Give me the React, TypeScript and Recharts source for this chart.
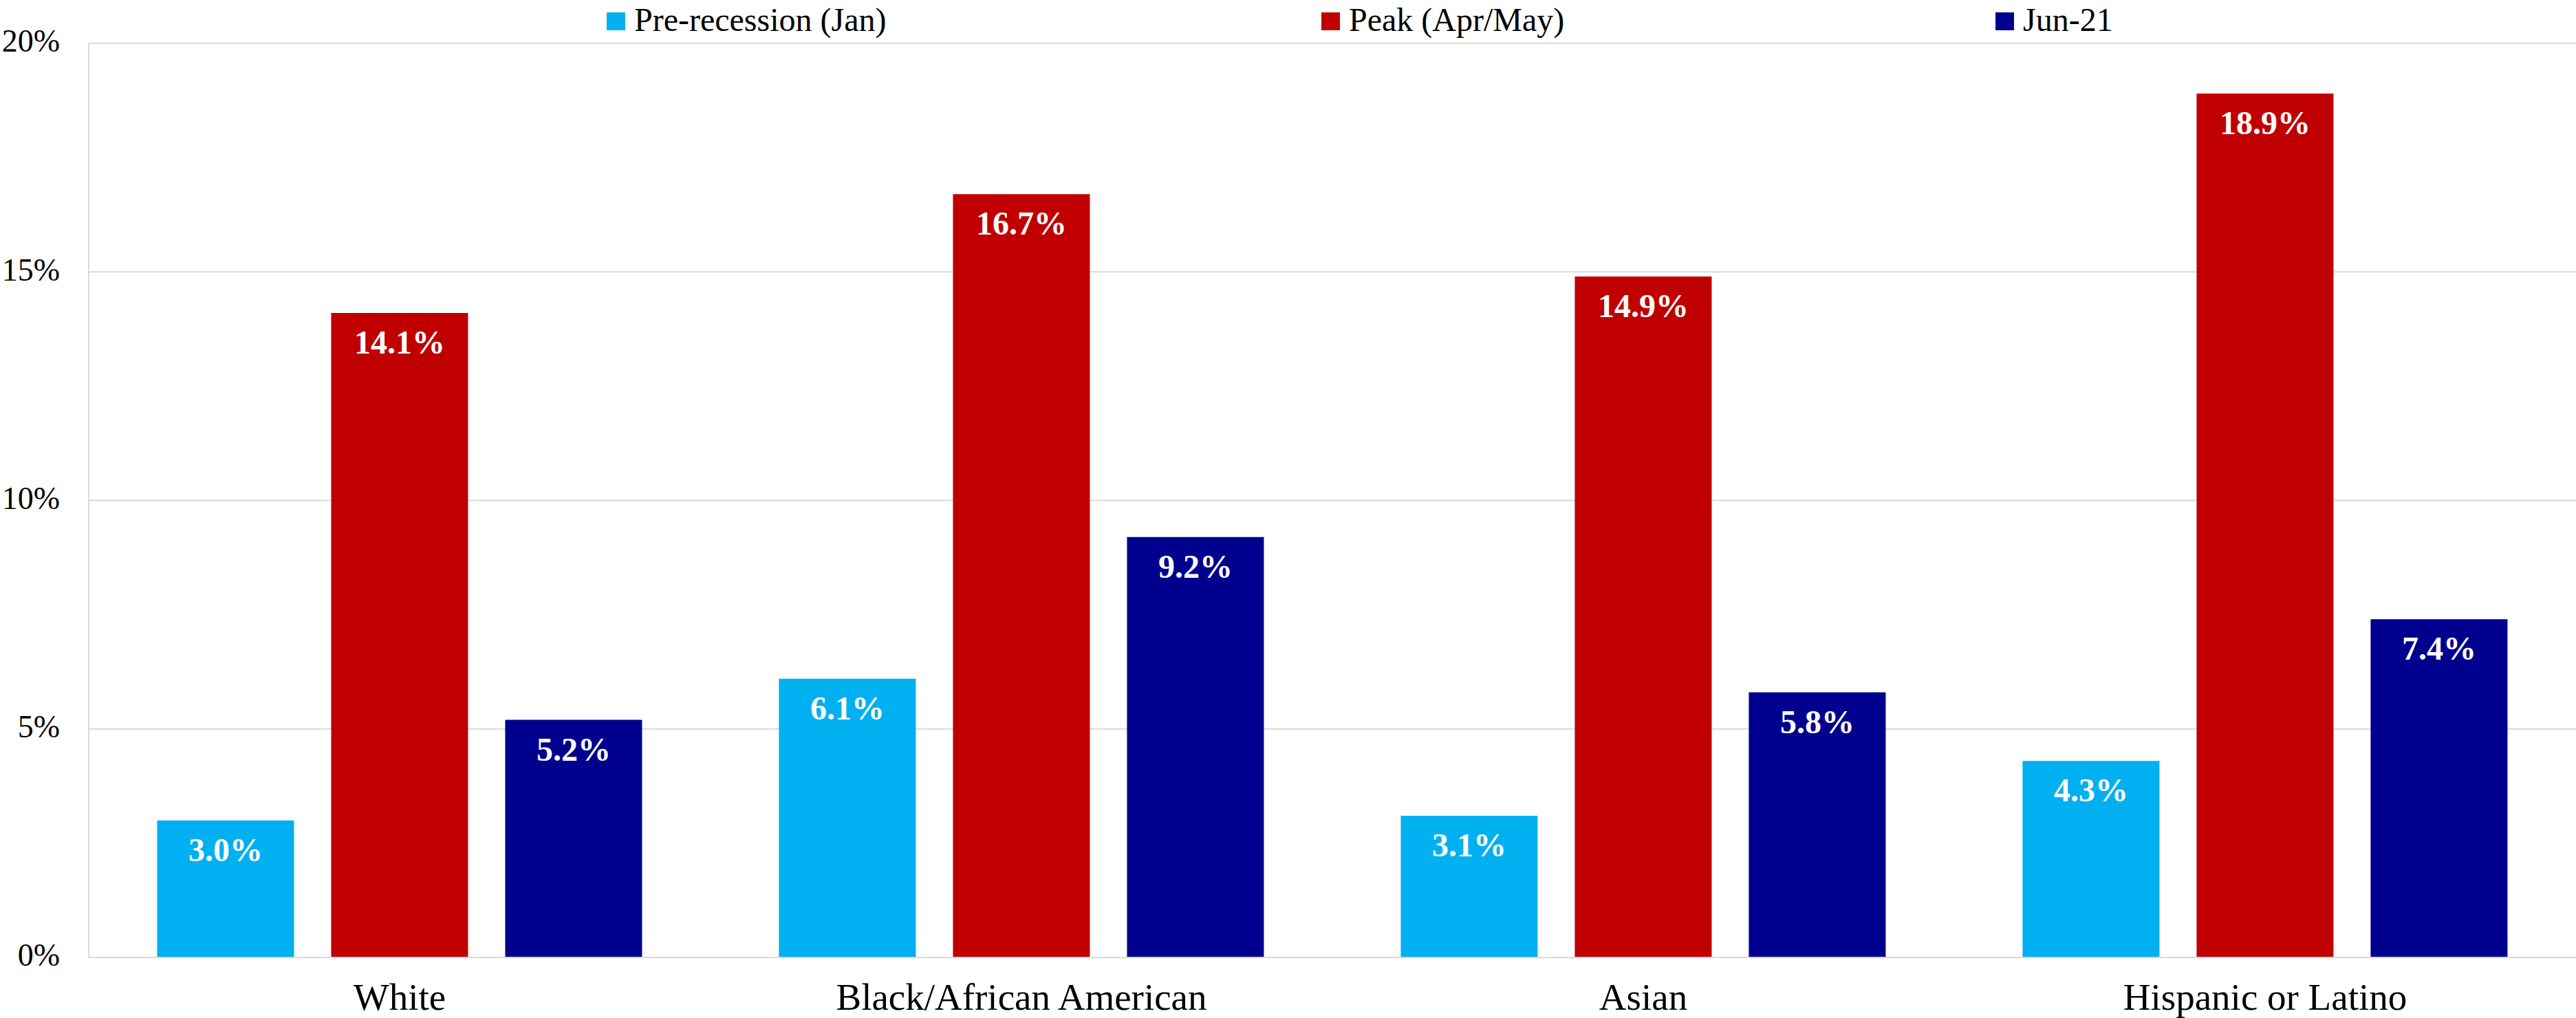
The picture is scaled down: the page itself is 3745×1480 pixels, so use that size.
import React from 'react';
import { BarChart, Bar, XAxis, YAxis, CartesianGrid, Legend, LabelList } from 'recharts';

const categories = ['White', 'Black/African American', 'Asian', 'Hispanic or Latino'];
const preRecession = [3.0, 6.1, 3.1, 4.3];
const peak = [14.1, 16.7, 14.9, 18.9];
const jun21 = [5.2, 9.2, 5.8, 7.4];
const yTicks = [0, 5, 10, 15, 20];
const seriesNames = ['Pre-recession (Jan)', 'Peak (Apr/May)', 'Jun-21'];
const seriesKeys = ['pre', 'peak', 'jun'];
const seriesColors = ['#00B0F0', '#C00000', '#00008F'];

const data = categories.map((c, i) => ({
  category: c,
  pre: preRecession[i],
  peak: peak[i],
  jun: jun21[i],
}));

const FONT = '"Liberation Serif", "Times New Roman", serif';
const legendX = [882, 1921, 2901];

const LegendContent = () => (
  <svg width={3745} height={60} style={{ display: 'block' }}>
    {seriesNames.map((n, i) => (
      <g key={n}>
        <rect x={legendX[i]} y={18} width={27} height={26} fill={seriesColors[i]} />
        <text x={legendX[i] + 40} y={45} fontFamily={FONT} fontSize={48} fill="#000">
          {n}
        </text>
      </g>
    ))}
  </svg>
);

const fmt = (v: any) => `${Number(v).toFixed(1)}%`;

export default function App() {
  return (
    <div style={{ position: 'absolute', left: 0, top: 0, background: '#fff' }}>
      <BarChart
        width={3745}
        height={1480}
        data={data}
        margin={{ top: 3, right: 0, left: 0, bottom: 0 }}
        barCategoryGap="11%"
        barGap={54}
      >
        <CartesianGrid vertical={false} stroke="#d9d9d9" strokeWidth={2} />
        <XAxis
          dataKey="category"
          height={88}
          axisLine={{ stroke: '#d9d9d9', strokeWidth: 2 }}
          tickLine={false}
          tickSize={0}
          tickMargin={37}
          tick={{ fontFamily: FONT, fontSize: 55, fill: '#000' }}
          interval={0}
        />
        <YAxis
          width={129}
          domain={[0, 20]}
          ticks={yTicks}
          tickFormatter={(v: number) => `${v}%`}
          axisLine={{ stroke: '#d9d9d9', strokeWidth: 2 }}
          tickLine={false}
          tickSize={0}
          tickMargin={42}
          tick={{ fontFamily: FONT, fontSize: 46, fill: '#000', dy: -4 }}
        />
        <Legend
          verticalAlign="top"
          align="left"
          content={<LegendContent />}
          wrapperStyle={{ top: 0, left: 0, width: 3745, height: 60 }}
        />
        {seriesKeys.map((k, i) => (
          <Bar key={k} dataKey={k} name={seriesNames[i]} fill={seriesColors[i]} isAnimationActive={false}>
            <LabelList
              dataKey={k}
              position="insideTop"
              offset={25}
              formatter={fmt}
              fill="#fff"
              fontFamily={FONT}
              fontSize={48}
              fontWeight="bold"
            />
          </Bar>
        ))}
      </BarChart>
    </div>
  );
}
